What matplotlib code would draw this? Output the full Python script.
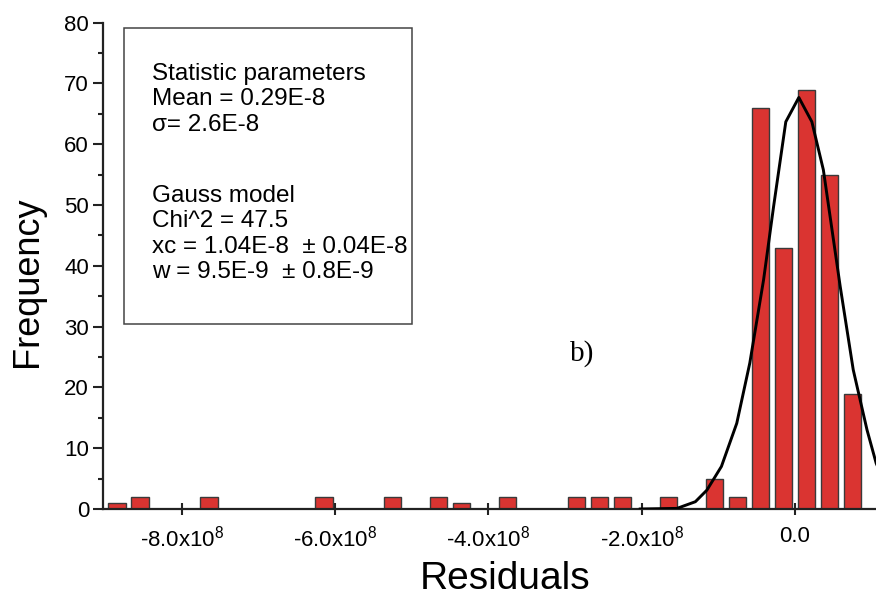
import numpy as np
import matplotlib.pyplot as plt
from matplotlib.patches import Rectangle
from matplotlib.ticker import MultipleLocator
#-------------------------------------------------------------------------------
# histogram of residuals, x in units of 1E-8
bin_centers = [-8.85, -8.55, -7.65, -6.15, -5.25, -4.65, -4.35, -3.75,
               -2.85, -2.55, -2.25, -1.65, -1.05, -0.75, -0.45, -0.15,
                0.15,  0.45,  0.75]
counts      = [1, 2, 2, 2, 2, 2, 1, 2,
               2, 2, 2, 2, 5, 2, 66, 43,
               69, 55, 19]
# gauss fit curve
fit_x = [-2.02, -1.54, -1.30, -1.15, -0.96, -0.76, -0.59, -0.41, -0.28,
         -0.12, 0.05, 0.22, 0.37, 0.59, 0.76, 0.94, 1.06, 1.15]
fit_y = [0.0, 0.1, 1.2, 3.1, 7.0, 14.1, 24.0, 37.7, 49.7,
         63.7, 67.7, 63.7, 55.8, 36.6, 22.9, 13.0, 7.5, 5.0]
xticks      = [-8, -6, -4, -2, 0]
xticklabels = [r'-8.0x10$^8$', r'-6.0x10$^8$', r'-4.0x10$^8$', r'-2.0x10$^8$', '0.0']
box_lines_1 = ['Statistic parameters', 'Mean = 0.29E-8', 'σ= 2.6E-8']
box_lines_2 = ['Gauss model', 'Chi^2 = 47.5',
               'xc = 1.04E-8  ± 0.04E-8', 'w = 9.5E-9  ± 0.8E-9']
#-------------------------------------------------------------------------------
plt.rcParams['font.family'] = ['Liberation Sans', 'DejaVu Sans']
plt.rcParams['mathtext.fontset'] = 'custom'
plt.rcParams['mathtext.rm'] = 'Liberation Sans'
plt.rcParams['mathtext.it'] = 'Liberation Sans'

fig = plt.figure(figsize=(8.76, 5.97), dpi=100)
ax = fig.add_axes([103/876, 88/597, 773/876, 486.3/597])

ax.bar(bin_centers, counts, width=0.23, color='#DA3431',
       edgecolor='#3a3a3a', linewidth=1.0, zorder=2)
ax.plot(fit_x, fit_y, color='black', linewidth=2.1, zorder=3)

ax.set_xlim(-9.03, 1.057)
ax.set_ylim(0, 80)
ax.set_xticks(xticks)
ax.set_xticklabels(xticklabels, fontsize=16)
ax.yaxis.set_major_locator(MultipleLocator(10))
ax.yaxis.set_minor_locator(MultipleLocator(5))
ax.tick_params(axis='y', which='major', direction='out', length=7, width=1.5,
               labelsize=16, pad=3, color='#222222')
ax.tick_params(axis='y', which='minor', direction='out', length=3.5, width=1.5,
               color='#222222')
ax.tick_params(axis='x', which='major', direction='inout', length=8, width=1.5,
               pad=8, color='#222222')

for s in ['top', 'right']:
    ax.spines[s].set_visible(False)
for s in ['left', 'bottom']:
    ax.spines[s].set_linewidth(1.6)
    ax.spines[s].set_color('#222222')

# text box
ax.add_patch(Rectangle((0.027, 0.380), 0.373, 0.609, transform=ax.transAxes,
                       fill=False, edgecolor='#444444', linewidth=1.1, zorder=4))
for txt, yy in zip(box_lines_1, [0.882, 0.830, 0.777]):
    ax.text(0.063, yy, txt, transform=ax.transAxes, fontsize=17.5, va='baseline')
for txt, yy in zip(box_lines_2, [0.632, 0.580, 0.527, 0.475]):
    ax.text(0.063, yy, txt, transform=ax.transAxes, fontsize=17.5, va='baseline')

ax.text(0.604, 0.306, 'b)', transform=ax.transAxes, fontsize=21,
        family='Liberation Serif', va='baseline')

fig.text(505/876, 8/597, 'Residuals', fontsize=28, ha='center', va='baseline')
fig.text(27/876, 1-282/597, 'Frequency', fontsize=26, rotation=90,
         ha='center', va='center')
#-------------------------------------------------------------------------------
fig.savefig('out.png', dpi=100)
